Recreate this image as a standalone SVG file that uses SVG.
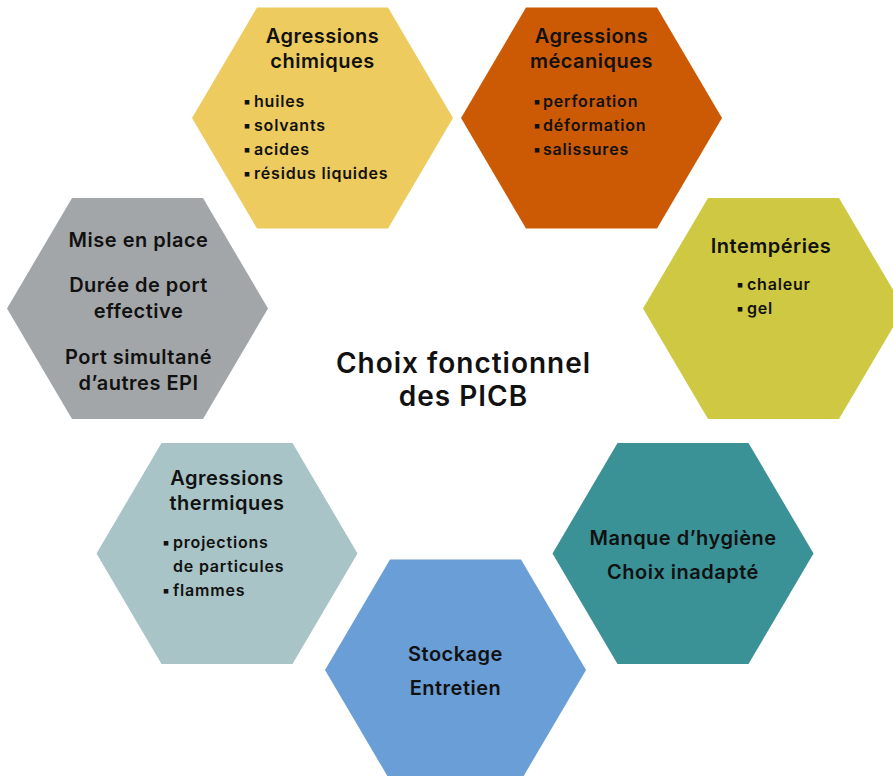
<svg xmlns="http://www.w3.org/2000/svg" xmlns:xlink="http://www.w3.org/1999/xlink" width="893" height="776" viewBox="0 0 893 776">
<defs>
<polygon id="hex" points="-130.5,0 -65.5,-110.5 65.5,-110.5 130.5,0 65.5,110.5 -65.5,110.5"/>
</defs>
<style>
text{font-family:Inter,"Liberation Sans","DejaVu Sans",sans-serif;fill:#111;}
.t{font-size:20px;font-weight:600;text-anchor:middle;letter-spacing:0.5px;}
.b{font-size:16px;font-weight:600;letter-spacing:0.8px;}
.c{font-size:28px;font-weight:600;text-anchor:middle;letter-spacing:1px;}
</style>
<rect width="893" height="776" fill="#fff"/>
<g id="chimiques">
<use xlink:href="#hex" x="322.5" y="118" fill="#EDCB5F"/>
<text class="t" x="322.5" y="43">Agressions</text>
<text class="t" x="322.5" y="68">chimiques</text>
<text class="b" x="243" y="107">▪<tspan x="254">huiles</tspan></text>
<text class="b" x="243" y="131">▪<tspan x="254">solvants</tspan></text>
<text class="b" x="243" y="155">▪<tspan x="254">acides</tspan></text>
<text class="b" x="243" y="179">▪<tspan x="254">résidus liquides</tspan></text>
</g>
<g id="mecaniques">
<use xlink:href="#hex" x="591.5" y="118" fill="#CC5A05"/>
<text class="t" x="591.5" y="43">Agressions</text>
<text class="t" x="591.5" y="68">mécaniques</text>
<text class="b" x="533" y="107">▪<tspan x="543">perforation</tspan></text>
<text class="b" x="533" y="131">▪<tspan x="543">déformation</tspan></text>
<text class="b" x="533" y="155">▪<tspan x="543">salissures</tspan></text>
</g>
<g id="intemperies">
<use xlink:href="#hex" x="773.5" y="308.5" fill="#CFC843"/>
<text class="t" x="771" y="253">Intempéries</text>
<text class="b" x="736" y="290">▪<tspan x="747">chaleur</tspan></text>
<text class="b" x="736" y="314">▪<tspan x="747">gel</tspan></text>
</g>
<g id="hygiene">
<use xlink:href="#hex" x="683" y="553.5" fill="#3A9196"/>
<text class="t" x="683" y="545">Manque d’hygiène</text>
<text class="t" x="683" y="579">Choix inadapté</text>
</g>
<g id="stockage">
<use xlink:href="#hex" x="455.5" y="670" fill="#6A9ED6"/>
<text class="t" x="455.5" y="661">Stockage</text>
<text class="t" x="455.5" y="695">Entretien</text>
</g>
<g id="thermiques">
<use xlink:href="#hex" x="227" y="553.5" fill="#A8C4C6"/>
<text class="t" x="227" y="485">Agressions</text>
<text class="t" x="227" y="510">thermiques</text>
<text class="b" x="162" y="548">▪<tspan x="173">projections</tspan></text>
<text class="b" x="173" y="572">de particules</text>
<text class="b" x="162" y="596">▪<tspan x="173">flammes</tspan></text>
</g>
<g id="miseenplace">
<use xlink:href="#hex" x="137.5" y="308.5" fill="#A3A6A8"/>
<text class="t" x="138.5" y="247">Mise en place</text>
<text class="t" x="138.5" y="292">Durée de port</text>
<text class="t" x="138.5" y="318">effective</text>
<text class="t" x="138.5" y="364">Port simultané</text>
<text class="t" x="138.5" y="390">d’autres EPI</text>
</g>
<g id="centre">
<text class="c" x="463.5" y="373">Choix fonctionnel</text>
<text class="c" x="463.5" y="406">des PICB</text>
</g>
</svg>
